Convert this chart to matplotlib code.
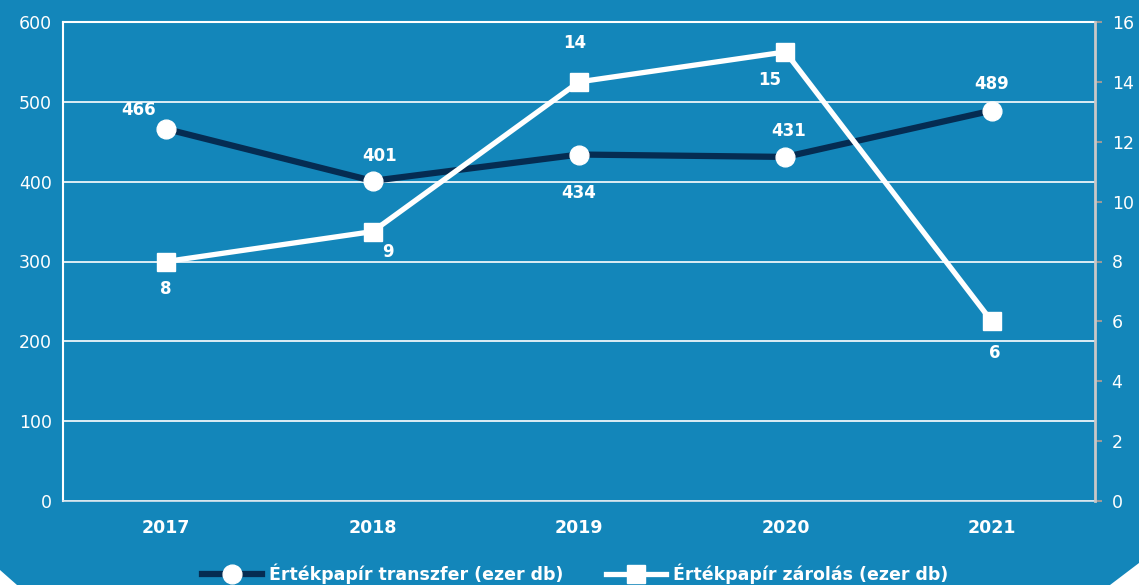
import matplotlib
matplotlib.use("Agg")
import matplotlib.pyplot as plt
from matplotlib.patches import Polygon

years = ["2017", "2018", "2019", "2020", "2021"]
transzfer = [466, 401, 434, 431, 489]
zarolas = [8, 9, 14, 15, 6]
transzfer_labels = ["466", "401", "434", "431", "489"]
zarolas_labels = ["8", "9", "14", "15", "6"]
left_ticks = [0, 100, 200, 300, 400, 500, 600]
right_ticks = [0, 2, 4, 6, 8, 10, 12, 14, 16]

BG = "#1386BA"
NAVY = "#052C52"
W = 1139; H = 585
plt.rcParams['font.family'] = ['DejaVu Sans']

fig = plt.figure(figsize=(W/100, H/100), dpi=100)
fig.patch.set_facecolor(BG)
# white corner triangles at bottom
fig.patches.append(Polygon([(0, 0), (0, 15/H), (17/W, 0)], closed=True,
                           transform=fig.transFigure, facecolor="white", edgecolor="none"))
fig.patches.append(Polygon([(1, 0), (1, 22/H), (1 - 29/W, 0)], closed=True,
                           transform=fig.transFigure, facecolor="white", edgecolor="none"))

ax = fig.add_axes([63/W, 1 - 501/H, (1095 - 63)/W, (501 - 22)/H])
ax.set_facecolor(BG)
x = list(range(len(years)))
ax.set_xlim(-0.5, 4.5)
ax.set_ylim(0, 600)
ax.set_yticks(left_ticks)
ax.grid(axis='y', color='white', linewidth=1.2)
ax.set_axisbelow(True)
for s in ['left', 'top']:
    ax.spines[s].set_color('white'); ax.spines[s].set_linewidth(1.5)
ax.spines['bottom'].set_color('#D8E6EE'); ax.spines['bottom'].set_linewidth(1.2)
ax.spines['right'].set_visible(False)
ax.tick_params(axis='y', length=0, colors='white', labelsize=12.5, pad=8)
ax.tick_params(axis='x', length=0, colors='white', labelsize=12.5, pad=13)
ax.set_xticks(x)
ax.set_xticklabels(years, fontweight='bold')

l1, = ax.plot(x, transzfer, color=NAVY, lw=4.5, marker='o', markersize=13.5,
              markerfacecolor='white', markeredgecolor='white', zorder=4,
              label="Értékpapír transzfer (ezer db)")

ax2 = ax.twinx()
ax2.set_ylim(0, 16)
ax2.set_yticks(right_ticks)
for s in ['left', 'top', 'bottom']:
    ax2.spines[s].set_visible(False)
ax2.spines['right'].set_color('#C8C8C8'); ax2.spines['right'].set_linewidth(2)
ax2.tick_params(axis='y', length=5, width=1.5, color='#9A9A9A', labelcolor='white', labelsize=12.5, pad=7)
l2, = ax2.plot(x, zarolas, color='white', lw=3.8, marker='s', markersize=13.5,
               markerfacecolor='white', markeredgecolor='white', zorder=5,
               label="Értékpapír zárolás (ezer db)")

# data labels (offsets in points)
t_off = [(-20, 14), (5, 18), (0, -28), (2, 19), (0, 19)]
for xi, v, lab, (dx, dy) in zip(x, transzfer, transzfer_labels, t_off):
    ax.annotate(lab, (xi, v), xytext=(dx, dy), textcoords='offset points',
                ha='center', va='center', color='white', fontsize=12, fontweight='bold')
z_off = [(0, -20), (11, -15), (-3, 28), (-11, -20), (2, -23)]
for xi, v, lab, (dx, dy) in zip(x, zarolas, zarolas_labels, z_off):
    ax2.annotate(lab, (xi, v), xytext=(dx, dy), textcoords='offset points',
                 ha='center', va='center', color='white', fontsize=12, fontweight='bold')

leg = fig.legend(handles=[l1, l2], loc='center', bbox_to_anchor=(0.505, 1 - 574/H),
                 ncol=2, frameon=False, fontsize=12.5, handlelength=3.45, columnspacing=2.5,
                 handletextpad=0.4)
for t in leg.get_texts():
    t.set_color('white'); t.set_fontweight('bold')

fig.savefig("out.png", dpi=100, facecolor=BG)
